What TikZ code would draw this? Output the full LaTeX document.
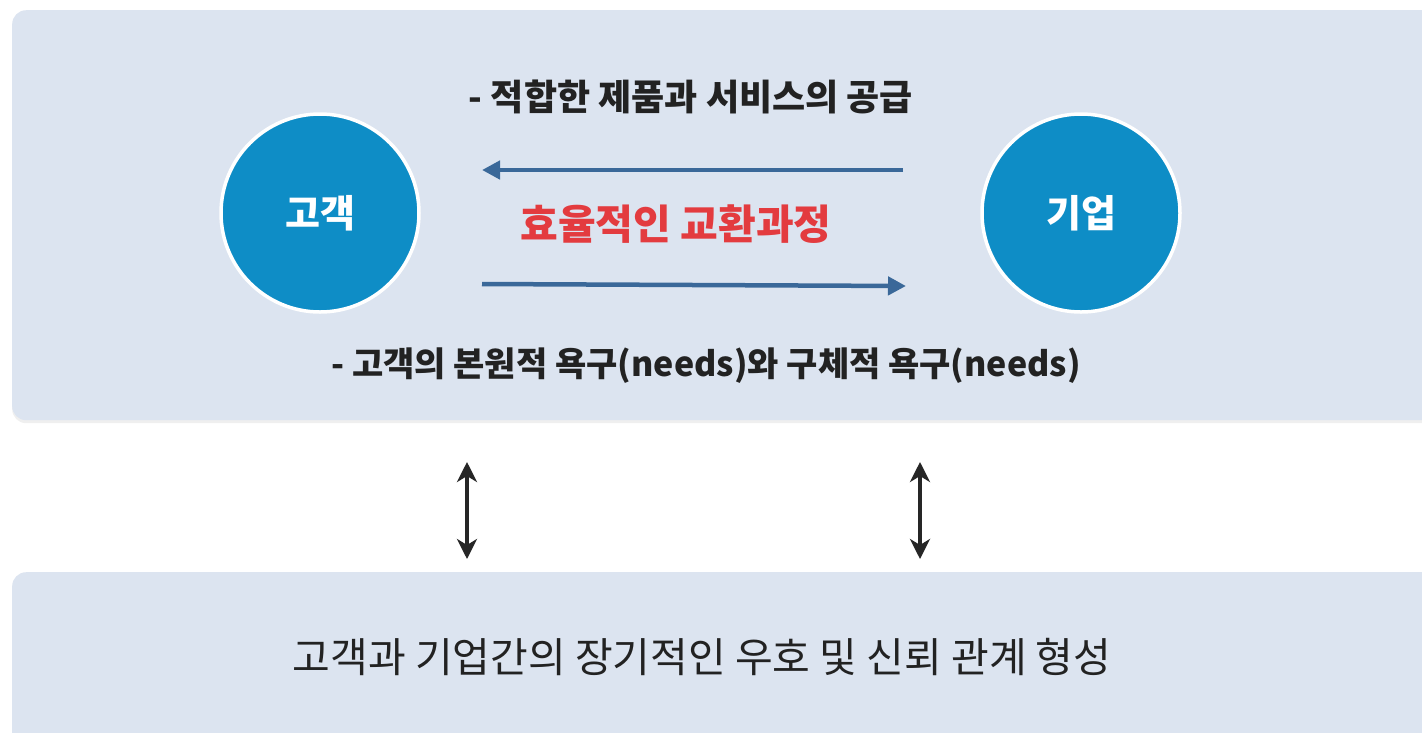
\documentclass[tikz,border=0pt]{standalone}
\usepackage{fontspec}
\setmainfont{Noto Sans CJK KR}
\usetikzlibrary{arrows.meta,shadows}
\definecolor{panel}{HTML}{DCE4F0}
\definecolor{circ}{HTML}{0E8DC6}
\definecolor{arr}{HTML}{3A6899}
\definecolor{redtxt}{HTML}{E33B3F}
\definecolor{dark}{HTML}{222222}
\tikzset{
  panelbox/.style={fill=panel, draw=none, rounded corners=14pt, anchor=north west,
    drop shadow={shadow xshift=0pt, shadow yshift=-3pt, opacity=0.12}},
  actor/.style={circle, fill=circ, draw=white, line width=3.5pt, minimum size=198pt,
    inner sep=0pt, text=white, font=\fontsize{38}{44}\selectfont\bfseries},
  flow/.style={draw=arr, line width=4.5pt, -{Triangle[length=18pt,width=18pt]}},
  link/.style={draw=black!85, line width=4pt, {Stealth[length=20pt,width=20pt,inset=6pt]}-{Stealth[length=20pt,width=20pt,inset=6pt]}},
  label/.style={text=dark, inner sep=0pt},
}
\begin{document}
\begin{tikzpicture}[x=1pt,y=-1pt]
\useasboundingbox (0,0) rectangle (1422,732);
\fill[white] (0,0) rectangle (1422,732);
\node[panelbox, minimum width=1430pt, minimum height=410pt] (top) at (12,10) {};
\node[panelbox, minimum width=1430pt, minimum height=175pt] (bottom) at (12,572) {};

\node[actor] (cust) at (320,213) {고객};
\node[actor] (firm) at (1081,213) {기업};

\node[label, font=\fontsize{36}{42}\selectfont\bfseries] (supply) at (691,97) {-\ 적합한 제품과 서비스의 공급};
\node[label, text=redtxt, font=\fontsize{41}{48}\selectfont\bfseries] (exch) at (676,224) {효율적인 교환과정};
\node[label, font=\fontsize{34}{40}\selectfont\bfseries] (needs) at (706,366) {-\ 고객의 본원적 욕구(needs)와 구체적 욕구(needs)};
\node[label, font=\fontsize{41}{48}\selectfont] (trust) at (702,657) {고객과 기업간의 장기적인 우호 및 신뢰 관계 형성};

\coordinate (a1s) at (903,170);
\coordinate (a1e) at (482,170);
\coordinate (a2s) at (482,284);
\coordinate (a2e) at (906,286);
\draw[flow] (a1s) -- (a1e);
\draw[flow] (a2s) -- (a2e);

\coordinate (l1t) at (467,462);
\coordinate (l1b) at (467,559);
\coordinate (l2t) at (920,462);
\coordinate (l2b) at (920,559);
\draw[link] (l1t) -- (l1b);
\draw[link] (l2t) -- (l2b);
\end{tikzpicture}
\end{document}
